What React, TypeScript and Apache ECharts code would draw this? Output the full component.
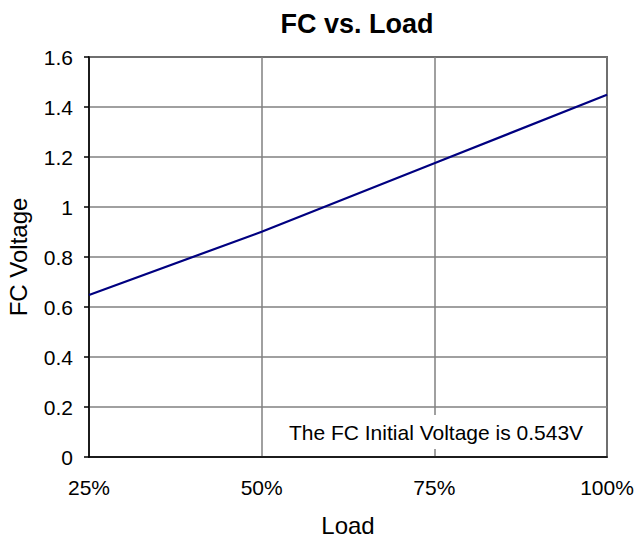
import React, { useEffect, useRef } from "react";
import * as echarts from "echarts";

const loads = [25, 50, 75, 100];
const fcVoltage = [0.648, 0.901, 1.175, 1.449];
const yTicks = [0, 0.2, 0.4, 0.6, 0.8, 1, 1.2, 1.4, 1.6];
const note = "The FC Initial Voltage is 0.543V";

const FONT = "'Liberation Sans', Arial, sans-serif";

export default function App() {
  const ref = useRef<HTMLDivElement>(null);
  useEffect(() => {
    if (!ref.current) return;
    const chart = echarts.init(ref.current, null, { renderer: "svg" });
    chart.setOption({
      animation: false,
      backgroundColor: "#fff",
      textStyle: { fontFamily: FONT },
      title: {
        text: "FC vs. Load",
        left: 352,
        textAlign: "center",
        top: 5,
        textStyle: { fontSize: 27, fontWeight: "bold", color: "#000", fontFamily: FONT },
      },
      grid: {
        left: 89,
        right: 27,
        top: 57,
        bottom: 81,
        show: true,
        borderColor: "#000",
        borderWidth: 1.5,
        backgroundColor: "transparent",
        containLabel: false,
        outerBoundsMode: "none",
      },
      xAxis: {
        type: "value",
        min: 25,
        max: 100,
        interval: 25,
        name: "Load",
        nameLocation: "middle",
        nameGap: 56,
        nameTextStyle: { fontSize: 24, color: "#000", fontFamily: FONT },
        axisLine: { show: true, lineStyle: { color: "#000", width: 1.5 } },
        axisTick: { show: false },
        axisLabel: { formatter: (v: number) => v + "%", fontSize: 21, color: "#000", margin: 20, fontFamily: FONT },
        splitLine: { show: true, lineStyle: { color: "#808080", width: 1.5 } },
      },
      yAxis: {
        type: "value",
        min: yTicks[0],
        max: yTicks[yTicks.length - 1],
        interval: 0.2,
        name: "FC Voltage",
        nameLocation: "middle",
        nameGap: 59,
        nameRotate: 90,
        nameTextStyle: { fontSize: 24, color: "#000", fontFamily: FONT },
        axisLine: { show: true, lineStyle: { color: "#000", width: 1.5 } },
        axisTick: { show: true, length: 5, lineStyle: { color: "#000", width: 1.5 } },
        axisLabel: {
          fontSize: 21,
          color: "#000",
          margin: 16,
          fontFamily: FONT,
          formatter: (v: number) => String(Math.round(v * 10) / 10),
        },
        splitLine: { show: true, lineStyle: { color: "#808080", width: 1.5 } },
      },
      series: [
        {
          type: "line",
          data: loads.map((x, i) => [x, fcVoltage[i]]),
          symbol: "none",
          lineStyle: { color: "#000080", width: 2.2 },
          z: 5,
        },
      ],
      graphic: [
        {
          type: "rect",
          shape: { x: 283, y: 415, width: 310, height: 34 },
          style: { fill: "#fff" },
          z: 10,
        },
        {
          type: "text",
          x: 436,
          y: 432,
          style: {
            text: note,
            fontSize: 21,
            fontFamily: FONT,
            fill: "#000",
            align: "center",
            verticalAlign: "middle",
          },
          z: 11,
        },
      ],
    });
    return () => chart.dispose();
  }, []);
  return <div ref={ref} style={{ width: 634, height: 538, position: "absolute", left: 0, top: 0 }} />;
}
